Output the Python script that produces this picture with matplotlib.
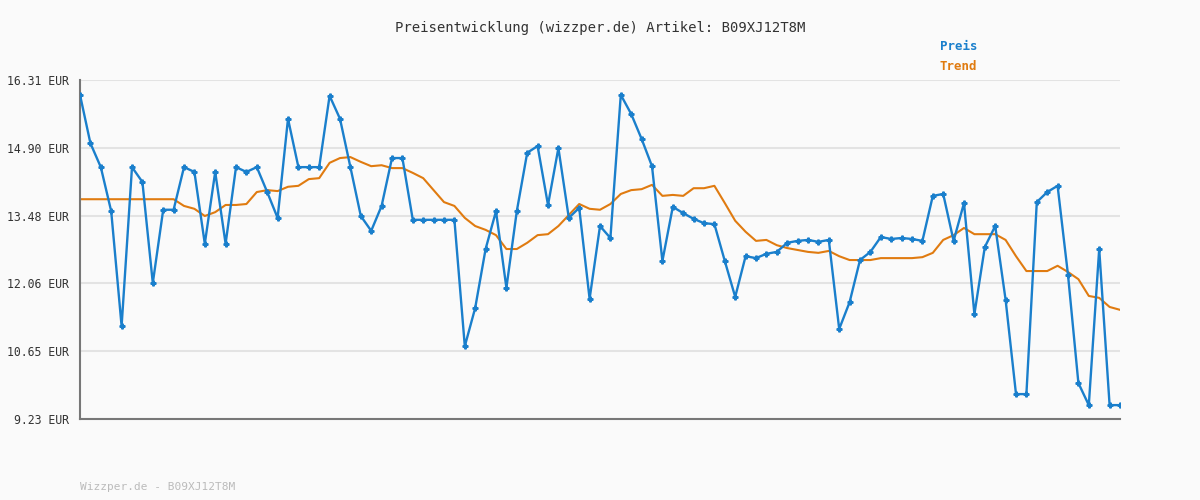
import matplotlib
matplotlib.use("Agg")
import matplotlib.pyplot as plt
import numpy as np

# Preis (EUR) je Messpunkt
preis = [16.00, 14.99, 14.49, 13.57, 11.17, 14.49, 14.18, 12.07, 13.60, 13.60,
         14.49, 14.39, 12.89, 14.39, 12.89, 14.49, 14.39, 14.49, 13.97, 13.43,
         15.50, 14.49, 14.49, 14.49, 15.98, 15.50, 14.49, 13.47, 13.16, 13.68,
         14.68, 14.68, 13.39, 13.39, 13.39, 13.39, 13.39, 10.75, 11.55, 12.78,
         13.57, 11.97, 13.57, 14.79, 14.93, 13.70, 14.89, 13.43, 13.64, 11.74,
         13.26, 13.01, 16.00, 15.60, 15.08, 14.51, 12.53, 13.66, 13.53, 13.41,
         13.32, 13.30, 12.53, 11.78, 12.63, 12.59, 12.68, 12.72, 12.91, 12.95,
         12.97, 12.93, 12.97, 11.11, 11.67, 12.55, 12.72, 13.03, 12.99, 13.01,
         12.99, 12.95, 13.89, 13.93, 12.95, 13.74, 11.42, 12.82, 13.26, 11.72,
         9.75, 9.75, 13.76, 13.97, 14.10, 12.24, 9.98, 9.52, 12.78, 9.52, 9.52]

trend = [13.82] * 10 + [
         13.68, 13.62, 13.47, 13.55, 13.70, 13.70, 13.72, 13.97, 14.01, 13.99,
         14.08, 14.10, 14.24, 14.26, 14.58, 14.68, 14.70, 14.60, 14.51, 14.53,
         14.47, 14.47, 14.37, 14.26, 14.01, 13.76, 13.68, 13.43, 13.26, 13.18,
         13.07, 12.78, 12.78, 12.91, 13.07, 13.09, 13.26, 13.49, 13.72, 13.62,
         13.60, 13.72, 13.93, 14.01, 14.03, 14.12, 13.89, 13.91, 13.89, 14.05,
         14.05, 14.10, 13.74, 13.37, 13.14, 12.95, 12.97, 12.86, 12.80, 12.76,
         12.72, 12.70, 12.74, 12.63, 12.55, 12.55, 12.55, 12.59, 12.59, 12.59,
         12.59, 12.61, 12.70, 12.97, 13.07, 13.22, 13.09, 13.09, 13.09, 12.97,
         12.63, 12.32, 12.32, 12.32, 12.43, 12.30, 12.15, 11.80, 11.76, 11.57,
         11.51]

yticks = [9.23, 10.65, 12.06, 13.48, 14.90, 16.31]
ytick_labels = ["9.23 EUR", "10.65 EUR", "12.06 EUR", "13.48 EUR", "14.90 EUR", "16.31 EUR"]

bg = "#fafafa"
blue = "#1a7fcc"
orange = "#e07b10"
mono = "DejaVu Sans Mono"

fig = plt.figure(figsize=(12, 5), dpi=100, facecolor=bg)
ax = fig.add_axes([80 / 1200, 81 / 500, 1040 / 1200, 339 / 500], facecolor=bg)

x = np.arange(len(preis))
ax.plot(x, trend, color=orange, lw=1.5, zorder=2)
ax.plot(x, preis, color=blue, lw=1.7, marker="P", ms=3.5, zorder=3)

ax.set_xlim(0, len(preis) - 1)
ax.set_ylim(yticks[0], yticks[-1])
ax.set_yticks(yticks)
ax.set_yticklabels(ytick_labels, fontfamily=mono, fontsize=8.3, color="#333333")
ax.set_xticks([])
ax.tick_params(axis="y", length=0, pad=8)
ax.grid(axis="y", color="#e3e3e3", lw=1.5)
for s in ("top", "right"):
    ax.spines[s].set_visible(False)
for s in ("left", "bottom"):
    ax.spines[s].set_color("#777777")
    ax.spines[s].set_linewidth(1.5)

fig.text(0.5, 1 - 28 / 500, "Preisentwicklung (wizzper.de) Artikel: B09XJ12T8M",
         ha="center", va="center", fontfamily=mono, fontsize=10, color="#333333")
fig.text(940 / 1200, 1 - 47 / 500, "Preis", color=blue, fontfamily=mono,
         fontsize=9, fontweight="bold", va="center")
fig.text(940 / 1200, 1 - 67 / 500, "Trend", color=orange, fontfamily=mono,
         fontsize=9, fontweight="bold", va="center")
fig.text(80 / 1200, 1 - 487 / 500, "Wizzper.de - B09XJ12T8M", color="#bbbbbb",
         fontfamily=mono, fontsize=8, va="center")

fig.savefig("out.png", dpi=100, facecolor=bg)
